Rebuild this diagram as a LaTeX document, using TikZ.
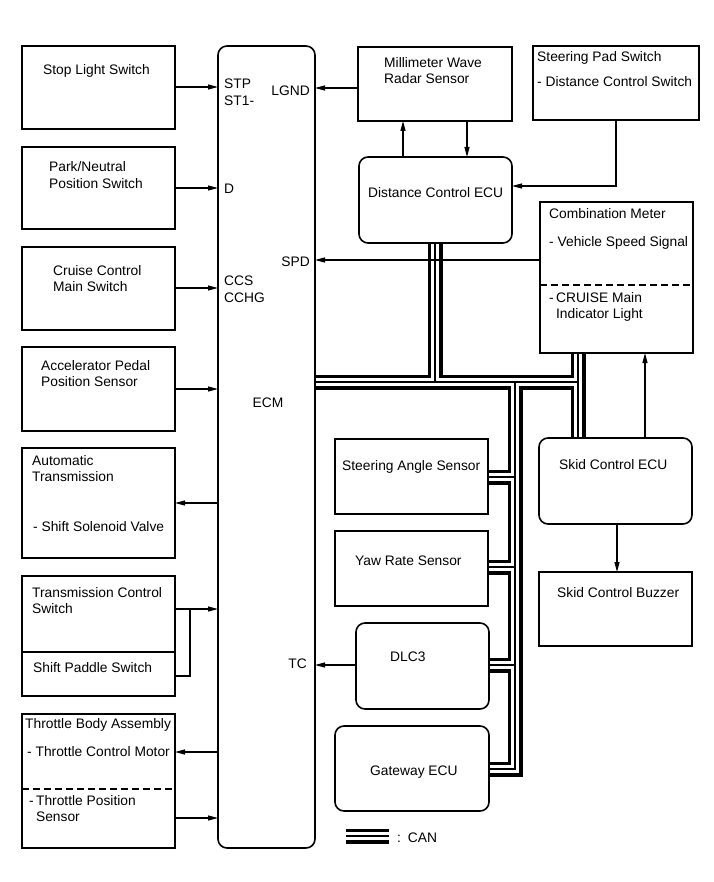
\documentclass[tikz,border=0pt]{standalone}
\usepackage{fontspec}
\setmainfont{Liberation Sans}
\usetikzlibrary{arrows.meta, positioning, backgrounds}
\colorlet{BoxLine}{black}
\colorlet{BusLine}{black}
\colorlet{BusGap}{white}
\tikzset{
    box/.style={draw=BoxLine, line width=1.6pt, anchor=north west, outer sep=0pt, inner sep=0pt},
    ecubox/.style={box, rounded corners=9pt},
    txt/.style={anchor=west, inner sep=0pt, align=left},
    sig/.style={draw=BoxLine, line width=1.2pt, -{Triangle[length=10pt,width=5pt]}},
    divider/.style={draw=BoxLine, line width=1.4pt},
    canouter/.style={draw=BusLine, line width=15pt},
    caninner/.style={draw=BusGap, line width=7.4pt},
    cancore/.style={draw=BusLine, line width=1.1pt}
}
% CAN bus route
\newcommand{\canroute}{
    (ecm.east |- 0,382) -- (578,382)
    (dcu.south -| 435,0) -- (435,382)
    (combmeter.south -| 578,0) -- (skid.north -| 578,0)
    (515,382) -- (515,769) -- (gateway.east |- 0,769)
    (515,477) -- (steerangle.east |- 0,477)
    (515,567) -- (yawrate.east |- 0,567)
    (515,665) -- (dlc.east |- 0,665)
}
\begin{document}
\begin{tikzpicture}[x=1pt, y=-1pt, font=\fontsize{13.8}{16.5}\selectfont]

    \useasboundingbox (0,0) rectangle (713,882);

    % ECM
    \node[ecubox, minimum width=97pt, minimum height=802pt] (ecm) at (218,46) {};
    \node[txt] at (224,92.5) {STP\\ST1-};
    \node[txt, anchor=east] at (310,91) {LGND};
    \node[txt] at (224,189) {D};
    \node[txt, anchor=east] at (310,262) {SPD};
    \node[txt] at (224,289) {CCS\\CCHG};
    \node[txt, anchor=center] at (268,403) {ECM};
    \node[txt, anchor=east] at (307,664) {TC};

    % Left column
    \node[box, minimum width=153pt, minimum height=83pt] (stoplight) at (22,46) {};
    \node[txt] at (43,71) {Stop Light Switch};

    \node[box, minimum width=153pt, minimum height=82pt] (parkneutral) at (22,147) {};
    \node[txt] at (49,175) {Park/Neutral\\Position Switch};

    \node[box, minimum width=153pt, minimum height=83pt] (cruisemain) at (22,247) {};
    \node[txt] at (53,278.5) {Cruise Control\\Main Switch};

    \node[box, minimum width=153pt, minimum height=84pt] (accel) at (22,347) {};
    \node[txt] at (41,373.5) {Accelerator Pedal\\Position Sensor};

    \node[box, minimum width=153pt, minimum height=110pt] (autotrans) at (22,448) {};
    \node[txt] at (32,468.5) {Automatic\\Transmission};
    \node[txt] at (33,527) {- Shift Solenoid Valve};

    \node[box, minimum width=153pt, minimum height=76pt] (tcswitch) at (22,576) {};
    \node[txt] at (32,600.5) {Transmission Control\\Switch};
    \node[box, minimum width=153pt, minimum height=44pt] (paddle) at (22,652) {};
    \node[txt] at (33,668) {Shift Paddle Switch};

    \node[box, minimum width=153pt, minimum height=134pt] (throttle) at (22,714) {};
    \node[txt] at (25,725) {Throttle Body Assembly};
    \node[txt] at (27,752) {- Throttle Control Motor};
    \draw[divider, dash pattern=on 7pt off 4pt] (throttle.west |- 0,789) -- (throttle.east |- 0,789);
    \node[txt] at (29,808.5) {-\,Throttle Position\\\hphantom{-\,}Sensor};

    % Right part
    \node[box, minimum width=154pt, minimum height=74pt] (radar) at (358,47) {};
    \node[txt] at (384,70.5) {Millimeter Wave\\Radar Sensor};

    \node[ecubox, minimum width=153pt, minimum height=86pt] (dcu) at (359,157) {};
    \node[txt] at (368,193) {Distance Control ECU};

    \node[box, minimum width=166pt, minimum height=74pt] (padswitch) at (533,46) {};
    \node[txt] at (537,58) {Steering Pad Switch};
    \node[txt] at (537,82) {- Distance Control Switch};

    \node[box, minimum width=153pt, minimum height=151pt] (combmeter) at (540,202) {};
    \node[txt] at (549,214) {Combination Meter};
    \node[txt] at (549,243) {- Vehicle Speed Signal};
    \draw[divider, dash pattern=on 7pt off 4pt] (combmeter.west |- 0,285) -- (combmeter.east |- 0,285);
    \node[txt] at (549,307) {-\,CRUISE Main\\\hphantom{-\,}Indicator Light};

    \node[ecubox, minimum width=153pt, minimum height=86pt] (skid) at (539,438) {};
    \node[txt] at (559,465) {Skid Control ECU};

    \node[box, minimum width=153pt, minimum height=74pt] (buzzer) at (539,572) {};
    \node[txt] at (557,593) {Skid Control Buzzer};

    \node[box, minimum width=153pt, minimum height=75pt] (steerangle) at (335,439) {};
    \node[txt] at (342,467) {Steering Angle Sensor};

    \node[box, minimum width=153pt, minimum height=75pt] (yawrate) at (335,531) {};
    \node[txt] at (355,561) {Yaw Rate Sensor};

    \node[ecubox, minimum width=133pt, minimum height=86pt] (dlc) at (356,623) {};
    \node[txt] at (390,657) {DLC3};

    \node[ecubox, minimum width=154pt, minimum height=85pt] (gateway) at (335,726) {};
    \node[txt] at (370,772) {Gateway ECU};

    % Signals
    \draw[sig] (stoplight.east |- 0,87) -- (ecm.west |- 0,87);
    \draw[sig] (parkneutral.east |- 0,188) -- (ecm.west |- 0,188);
    \draw[sig] (cruisemain.east |- 0,288) -- (ecm.west |- 0,288);
    \draw[sig] (accel.east |- 0,389) -- (ecm.west |- 0,389);
    \draw[sig] (ecm.west |- 0,503) -- (autotrans.east |- 0,503);
    \coordinate (tcjoin) at (190,609);
    \draw[sig] (tcswitch.east |- 0,609) -- (ecm.west |- 0,609);
    \draw[line width=1.2pt] (paddle.east |- 0,676) -| (tcjoin);
    \draw[sig] (ecm.west |- 0,752) -- (throttle.east |- 0,752);
    \draw[sig] (throttle.east |- 0,818) -- (ecm.west |- 0,818);

    \draw[sig] (radar.west |- 0,88) -- (ecm.east |- 0,88);
    \draw[sig] (dcu.north -| 403,0) -- (radar.south -| 403,0);
    \draw[sig] (radar.south -| 467,0) -- (dcu.north -| 467,0);
    \draw[sig] (padswitch.south -| 616,0) |- (dcu.east |- 0,186);
    \draw[sig] (combmeter.west |- 0,260) -- (ecm.east |- 0,260);
    \draw[sig] (skid.north -| 645,0) -- (combmeter.south -| 645,0);
    \draw[sig] (skid.south -| 617,0) -- (buzzer.north -| 617,0);
    \draw[sig] (dlc.west |- 0,665) -- (ecm.east |- 0,665);

    % CAN bus
    \begin{scope}[on background layer]
        \draw[canouter] \canroute;
        \draw[caninner] \canroute;
        \draw[cancore] \canroute;
    \end{scope}

    % Legend
    \coordinate (canfrom) at (346,836);
    \coordinate (canto) at (389,836);
    \draw[canouter] (canfrom) -- (canto);
    \draw[caninner] (canfrom) -- (canto);
    \draw[cancore] (canfrom) -- (canto);
    \node[txt] (canlabel) at (397,838) {:\enspace CAN};

\end{tikzpicture}
\end{document}
